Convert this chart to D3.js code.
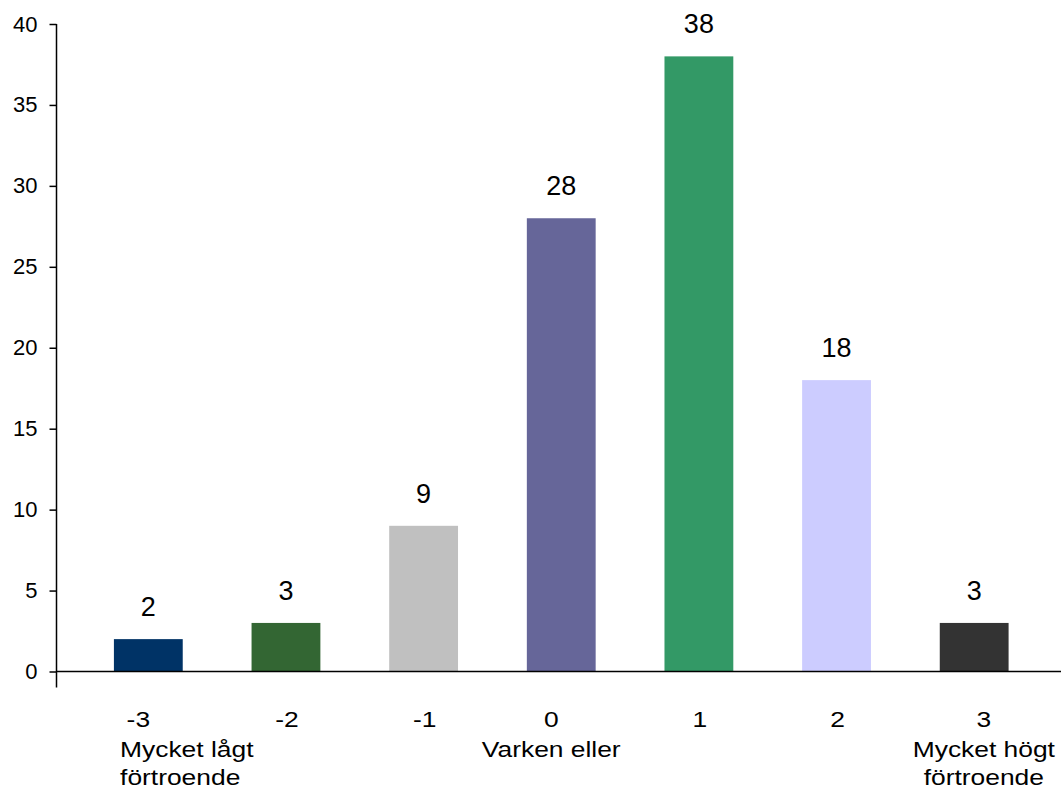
<!DOCTYPE html>
<html lang="sv">
    <head>
        <meta charset="utf-8">
        <title>Förtroende</title>
        <script type="text/javascript" src="https://d3js.org/d3.v7.min.js"></script>
        <style type="text/css">
            body {
                margin: 0;
                background: white;
            }
            svg {
                display: block;
                font-family: "Liberation Sans", Arial, sans-serif;
            }
        </style>
    </head>
    <body>
        <script type="text/javascript">

        const categories = ["-3", "-2", "-1", "0", "1", "2", "3"];
        const values = [2, 3, 9, 28, 38, 18, 3];
        const subLabels = [["Mycket lågt", "förtroende"], [], [], ["Varken eller"], [], [], ["Mycket högt", "förtroende"]];
        const barColors = ["#003366", "#336633", "#c0c0c0", "#666699", "#339966", "#ccccff", "#333333"];
        const yTicks = [0, 5, 10, 15, 20, 25, 30, 35, 40];

        const width = 1061;
        const height = 789;
        const axisFont = 22;
        const valueFont = 27;
        const catStretch = 1.2;   // category labels are drawn a bit wider in the original
        const lineY = [727, 757, 785];

        const xScale = d3.scaleBand()
                        .domain(categories)
                        .range([79.5, 1043])
                        .paddingInner(0.5)
                        .paddingOuter(0.25);

        const yScale = d3.scaleLinear()
                        .domain([0, 40])
                        .range([671.5, 24]);

        const svg = d3.select("body")
                    .append("svg")
                    .attr("width", width)
                    .attr("height", height);

        // bars
        svg.selectAll("rect")
            .data(values)
            .enter()
            .append("rect")
            .attr("x", (d, i) => xScale(categories[i]))
            .attr("y", d => yScale(d))
            .attr("width", xScale.bandwidth())
            .attr("height", d => yScale(0) - yScale(d))
            .attr("fill", (d, i) => barColors[i]);

        // value labels
        svg.selectAll(".val")
            .data(values)
            .enter()
            .append("text")
            .attr("class", "val")
            .attr("x", (d, i) => xScale(categories[i]) + xScale.bandwidth() / 2)
            .attr("y", d => yScale(d) - 23)
            .attr("text-anchor", "middle")
            .style("font-size", valueFont + "px")
            .text(d => d);

        // left axis
        const leftAxis = d3.axisLeft(yScale)
                        .tickValues(yTicks)
                        .tickSize(7)
                        .tickPadding(12);

        const yAxis = svg.append("g")
            .attr("transform", "translate(56.5,0)")
            .call(leftAxis);
        yAxis.select(".domain").remove();
        yAxis.selectAll(".tick line").attr("stroke", "black").attr("stroke-width", 1.5);
        yAxis.selectAll(".tick text")
            .style("font-size", axisFont + "px")
            .style("font-family", "Liberation Sans, Arial, sans-serif")
            .attr("fill", "black");

        yAxis.append("line")
            .attr("x1", 0).attr("x2", 0)
            .attr("y1", yScale(40))
            .attr("y2", yScale(0) + 16)
            .attr("stroke", "black")
            .attr("stroke-width", 1.5);

        // x axis line
        svg.append("line")
            .attr("x1", 56.5).attr("x2", width)
            .attr("y1", yScale(0)).attr("y2", yScale(0))
            .attr("stroke", "black")
            .attr("stroke-width", 1.5);

        // category labels; multi-line ones sit a little left and are kept inside the plot
        svg.selectAll(".cat")
            .data(categories)
            .enter()
            .append("g")
            .attr("class", "cat")
            .each(function(c, i) {
                const g = d3.select(this);
                const lines = [c].concat(subLabels[i]);
                const texts = lines.map(t => g.append("text")
                    .attr("text-anchor", "middle")
                    .style("font-size", axisFont + "px")
                    .text(t));
                const widths = texts.map(t => t.node().getComputedTextLength() * catStretch);
                const maxW = d3.max(widths);
                let cx = xScale(c) + xScale.bandwidth() / 2 + (subLabels[i].length ? -10 : 1);
                if (cx + maxW / 2 > 1030) cx = 1055 - maxW / 2;
                texts.forEach((t, k) => {
                    const x = Math.max(cx, 120 + widths[k] / 2);
                    t.attr("transform", "translate(" + x + "," + lineY[k] + ") scale(" + catStretch + ",1)");
                });
            });

        </script>
    </body>
</html>
